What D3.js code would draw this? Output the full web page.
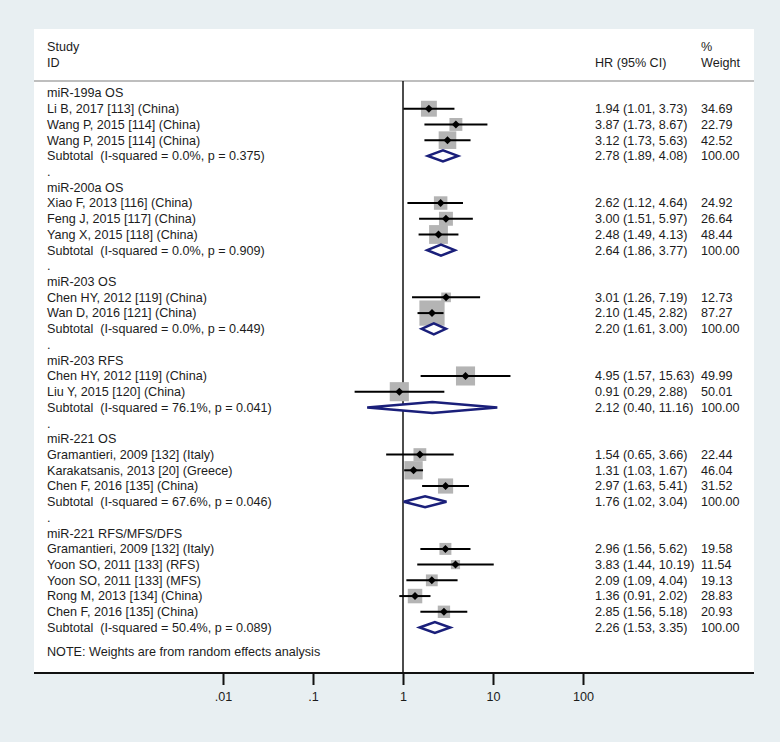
<!DOCTYPE html>
<meta charset="utf-8">
<html>
<head>
<script src="https://d3js.org/d3.v7.min.js"></script>
<style>
  body { margin: 0; background: #e8eff2; }
  svg { display: block; font-family: "Liberation Sans", Arial, sans-serif; }
  text { fill: #1c1c1c; font-size: 12.6px; white-space: pre; }
</style>
</head>
<body>
<script>
// group headers and subtotal rows
var groups = ["miR-199a OS", "miR-200a OS", "miR-203 OS", "miR-203 RFS", "miR-221 OS", "miR-221 RFS/MFS/DFS"];
var subtotalLabels = [
  "Subtotal  (I-squared = 0.0%, p = 0.375)",
  "Subtotal  (I-squared = 0.0%, p = 0.909)",
  "Subtotal  (I-squared = 0.0%, p = 0.449)",
  "Subtotal  (I-squared = 76.1%, p = 0.041)",
  "Subtotal  (I-squared = 67.6%, p = 0.046)",
  "Subtotal  (I-squared = 50.4%, p = 0.089)"
];
var subHR = [2.78, 2.64, 2.20, 2.12, 1.76, 2.26];
var subLo = [1.89, 1.86, 1.61, 0.40, 1.02, 1.53];
var subHi = [4.08, 3.77, 3.00, 11.16, 3.04, 3.35];

// individual studies
var studyGroup = [0, 0, 0, 1, 1, 1, 2, 2, 3, 3, 4, 4, 4, 5, 5, 5, 5, 5];
var studies = [
  "Li B, 2017 [113] (China)", "Wang P, 2015 [114] (China)", "Wang P, 2015 [114] (China)",
  "Xiao F, 2013 [116] (China)", "Feng J, 2015 [117] (China)", "Yang X, 2015 [118] (China)",
  "Chen HY, 2012 [119] (China)", "Wan D, 2016 [121] (China)",
  "Chen HY, 2012 [119] (China)", "Liu Y, 2015 [120] (China)",
  "Gramantieri, 2009 [132] (Italy)", "Karakatsanis, 2013 [20] (Greece)", "Chen F, 2016 [135] (China)",
  "Gramantieri, 2009 [132] (Italy)", "Yoon SO, 2011 [133] (RFS)", "Yoon SO, 2011 [133] (MFS)",
  "Rong M, 2013 [134] (China)", "Chen F, 2016 [135] (China)"
];
var hr = [1.94, 3.87, 3.12, 2.62, 3.00, 2.48, 3.01, 2.10, 4.95, 0.91, 1.54, 1.31, 2.97, 2.96, 3.83, 2.09, 1.36, 2.85];
var lo = [1.01, 1.73, 1.73, 1.12, 1.51, 1.49, 1.26, 1.45, 1.57, 0.29, 0.65, 1.03, 1.63, 1.56, 1.44, 1.09, 0.91, 1.56];
var hi = [3.73, 8.67, 5.63, 4.64, 5.97, 4.13, 7.19, 2.82, 15.63, 2.88, 3.66, 1.67, 5.41, 5.62, 10.19, 4.04, 2.02, 5.18];
var weight = [34.69, 22.79, 42.52, 24.92, 26.64, 48.44, 12.73, 87.27, 49.99, 50.01, 22.44, 46.04, 31.52, 19.58, 11.54, 19.13, 28.83, 20.93];

var tickValues = [0.01, 0.1, 1, 10, 100];
var tickLabels = [".01", ".1", "1", "10", "100"];

var width = 780, height = 742,
    panel = {left: 34, top: 29, right: 754, bottom: 673},
    fmt = d3.format(".2f");

// build row list: header, studies, subtotal, blank spacer
var rows = [];
groups.forEach(function(g, gi){
    rows.push({type: "group", label: g});
    studies.forEach(function(s, i){
        if (studyGroup[i] === gi) rows.push({type: "study", label: s, hr: hr[i], lo: lo[i], hi: hi[i], w: weight[i]});
    });
    rows.push({type: "sub", label: subtotalLabels[gi], hr: subHR[gi], lo: subLo[gi], hi: subHi[gi], w: 100});
    if (gi < groups.length - 1) rows.push({type: "blank", label: "."});
});
rows.forEach(function(d, i){ d.row = i; });

var x = d3.scaleLog().domain([0.01, 100]).range([223, 583]),
    y = d3.scaleLinear().domain([0, 34]).range([93, 627.5]),
    box = d3.scaleSqrt().domain([0, 100]).range([0, 27]);

var svg = d3.select("body").append("svg")
    .attr("width", width)
    .attr("height", height);

svg.append("rect")
    .attr("x", panel.left).attr("y", panel.top)
    .attr("width", panel.right - panel.left).attr("height", panel.bottom - panel.top)
    .attr("fill", "#fff");

// header
svg.append("text").attr("x", 47).attr("y", 47).attr("dy", "0.35em").text("Study");
svg.append("text").attr("x", 47).attr("y", 63).attr("dy", "0.35em").text("ID");
svg.append("text").attr("x", 595).attr("y", 63).attr("dy", "0.35em").text("HR (95% CI)");
svg.append("text").attr("x", 701).attr("y", 47).attr("dy", "0.35em").text("%");
svg.append("text").attr("x", 701).attr("y", 63).attr("dy", "0.35em").text("Weight");

svg.append("line")
    .attr("x1", panel.left).attr("x2", panel.right)
    .attr("y1", 81).attr("y2", 81)
    .attr("stroke", "#a8a8a8").attr("stroke-width", 1.5);

// null line
svg.append("line")
    .attr("x1", x(1)).attr("x2", x(1))
    .attr("y1", 81).attr("y2", panel.bottom)
    .attr("stroke", "#111").attr("stroke-width", 1.5);

// labels
svg.selectAll(".lbl")
    .data(rows)
    .enter().append("text")
    .attr("class", "lbl")
    .attr("x", 47)
    .attr("y", function(d){ return y(d.row); })
    .attr("dy", "0.35em")
    .text(function(d){ return d.label; });

var est = rows.filter(function(d){ return d.type === "study" || d.type === "sub"; });

svg.selectAll(".hr")
    .data(est)
    .enter().append("text")
    .attr("x", 595)
    .attr("y", function(d){ return y(d.row); })
    .attr("dy", "0.35em")
    .text(function(d){ return fmt(d.hr) + " (" + fmt(d.lo) + ", " + fmt(d.hi) + ")"; });

svg.selectAll(".wt")
    .data(est)
    .enter().append("text")
    .attr("x", 701)
    .attr("y", function(d){ return y(d.row); })
    .attr("dy", "0.35em")
    .text(function(d){ return fmt(d.w); });

var st = rows.filter(function(d){ return d.type === "study"; });

svg.selectAll(".box")
    .data(st)
    .enter().append("rect")
    .attr("x", function(d){ return x(d.hr) - box(d.w) / 2; })
    .attr("y", function(d){ return y(d.row) - box(d.w) / 2; })
    .attr("width", function(d){ return box(d.w); })
    .attr("height", function(d){ return box(d.w); })
    .attr("fill", "#b4b4b4");

svg.selectAll(".ci")
    .data(st)
    .enter().append("line")
    .attr("x1", function(d){ return x(d.lo); })
    .attr("x2", function(d){ return x(d.hi); })
    .attr("y1", function(d){ return y(d.row); })
    .attr("y2", function(d){ return y(d.row); })
    .attr("stroke", "#000").attr("stroke-width", 2);

svg.selectAll(".pt")
    .data(st)
    .enter().append("path")
    .attr("d", function(d){
        var cx = x(d.hr), cy = y(d.row);
        return "M" + (cx - 4) + "," + cy + "L" + cx + "," + (cy - 4) + "L" + (cx + 4) + "," + cy + "L" + cx + "," + (cy + 4) + "Z";
    })
    .attr("fill", "#000");

// subtotal diamonds
svg.selectAll(".dia")
    .data(rows.filter(function(d){ return d.type === "sub"; }))
    .enter().append("path")
    .attr("d", function(d){
        var cy = y(d.row);
        return "M" + x(d.lo) + "," + cy + "L" + x(d.hr) + "," + (cy - 5.5) + "L" + x(d.hi) + "," + cy + "L" + x(d.hr) + "," + (cy + 5.5) + "Z";
    })
    .attr("fill", "#fff")
    .attr("stroke", "#1a1f7a")
    .attr("stroke-width", 2.5);

svg.append("text").attr("x", 47).attr("y", y(35.55)).attr("dy", "0.35em")
    .text("NOTE: Weights are from random effects analysis");

// x axis
svg.append("line")
    .attr("x1", panel.left).attr("x2", panel.right)
    .attr("y1", panel.bottom).attr("y2", panel.bottom)
    .attr("stroke", "#111").attr("stroke-width", 2);

var ax = svg.append("g")
    .attr("transform", "translate(0," + panel.bottom + ")")
    .call(d3.axisBottom(x).tickValues(tickValues).tickSize(12).tickPadding(7)
        .tickFormat(function(d, i){ return tickLabels[i]; }));
ax.select(".domain").remove();
ax.selectAll(".tick line").attr("stroke", "#111").attr("stroke-width", 2);
ax.selectAll(".tick text").attr("fill", "#1c1c1c").style("font-size", "12.6px")
    .style("font-family", "'Liberation Sans', Arial, sans-serif");
</script>
</body>
</html>
